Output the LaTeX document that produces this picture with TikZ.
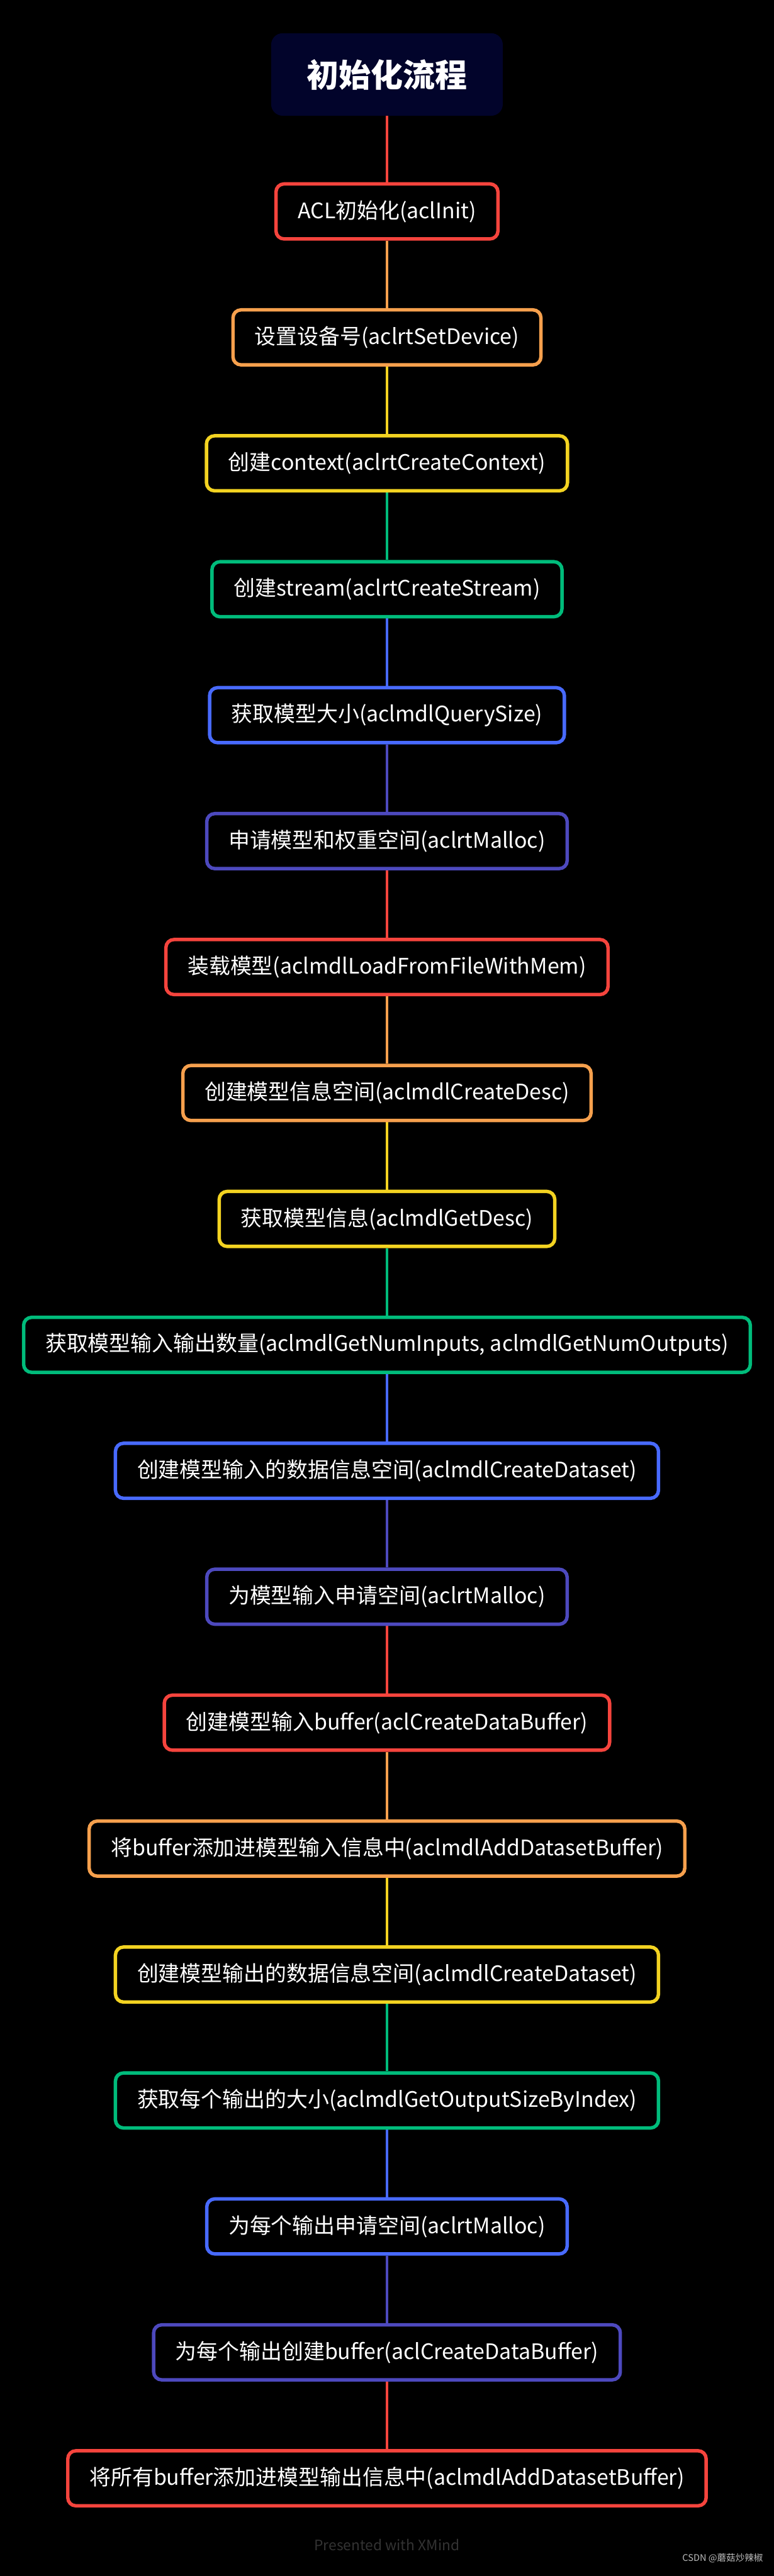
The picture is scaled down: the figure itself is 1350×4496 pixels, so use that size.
\documentclass[tikz,border=0pt]{standalone}
\usepackage{fontspec}
\setmainfont{Noto Sans CJK SC}
\usetikzlibrary{backgrounds}
\definecolor{xred}{HTML}{F5443D}
\definecolor{xorange}{HTML}{F6A04D}
\definecolor{xyellow}{HTML}{F3D321}
\definecolor{xgreen}{HTML}{00BC7B}
\definecolor{xblue}{HTML}{486AFF}
\definecolor{xpurple}{HTML}{4D49BE}
\definecolor{titlebg}{HTML}{02042B}
\definecolor{footgray}{HTML}{333333}
\definecolor{markgray}{HTML}{BBBBBB}
\begin{document}
\begin{tikzpicture}[x=0.5pt,y=-0.5pt,
  stepbox/.style={draw=#1, line width=3pt, rounded corners=7pt, fill=black, text=white,
    font=\fontsize{18.6}{22}\selectfont, minimum height=48pt, inner xsep=19pt},
  link/.style={draw=#1, line width=2.2pt}]
\begin{pgfonlayer}{background}
  \fill[black] (0,0) rectangle (1350,4496);
\end{pgfonlayer}
\useasboundingbox (0,0) rectangle (1350,4496);
% root of the flow
\node[fill=titlebg, rounded corners=10pt, text=white, font=\fontsize{28}{34}\selectfont\bfseries,
  minimum width=202pt, minimum height=72pt] (s0) at (675,130) {初始化流程};
\foreach \i/\c/\t in {
  1/xred/ACL初始化(aclInit),
  2/xorange/设置设备号(aclrtSetDevice),
  3/xyellow/创建context(aclrtCreateContext),
  4/xgreen/创建stream(aclrtCreateStream),
  5/xblue/获取模型大小(aclmdlQuerySize),
  6/xpurple/申请模型和权重空间(aclrtMalloc),
  7/xred/装载模型(aclmdlLoadFromFileWithMem),
  8/xorange/创建模型信息空间(aclmdlCreateDesc),
  9/xyellow/获取模型信息(aclmdlGetDesc),
  10/xgreen/{获取模型输入输出数量(aclmdlGetNumInputs, aclmdlGetNumOutputs)},
  11/xblue/创建模型输入的数据信息空间(aclmdlCreateDataset),
  12/xpurple/为模型输入申请空间(aclrtMalloc),
  13/xred/创建模型输入buffer(aclCreateDataBuffer),
  14/xorange/将buffer添加进模型输入信息中(aclmdlAddDatasetBuffer),
  15/xyellow/创建模型输出的数据信息空间(aclmdlCreateDataset),
  16/xgreen/获取每个输出的大小(aclmdlGetOutputSizeByIndex),
  17/xblue/为每个输出申请空间(aclrtMalloc),
  18/xpurple/为每个输出创建buffer(aclCreateDataBuffer),
  19/xred/将所有buffer添加进模型输出信息中(aclmdlAddDatasetBuffer)} {
  \pgfmathtruncatemacro{\j}{\i-1}
  \node[stepbox=\c] (s\i) at (675,{369+219.8*(\i-1)}) {\t};
  \begin{pgfonlayer}{background}
    \draw[link=\c] (s\j.south) -- (s\i.north);
  \end{pgfonlayer}
}
\node[text=footgray, font=\fontsize{12.5}{14}\selectfont] (foot) at (675,4442) {Presented with XMind};
\node[text=markgray, font=\fontsize{8}{10}\selectfont, anchor=east] (mark) at (1338,4465) {CSDN @蘑菇炒辣椒};
\end{tikzpicture}
\end{document}
